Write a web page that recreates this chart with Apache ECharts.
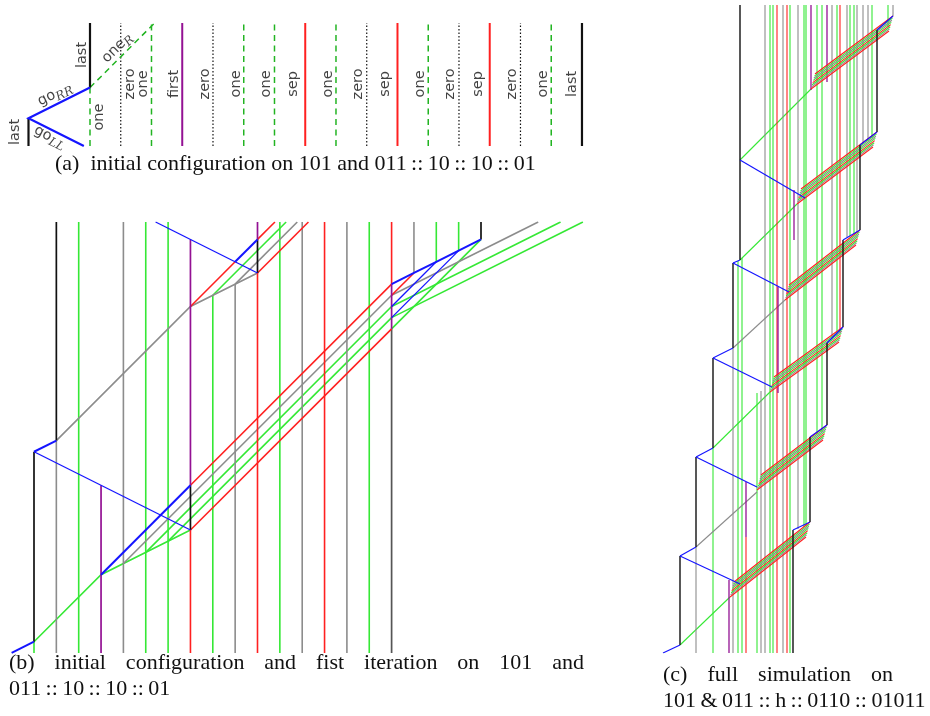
<!DOCTYPE html>
<html>
<head>
<meta charset="utf-8">
<script src="https://cdn.jsdelivr.net/npm/echarts@6/dist/echarts.min.js"></script>
<style>
html, body { margin: 0; padding: 0; background: #fff; }
#main { width: 930px; height: 716px; }
</style>
</head>
<body>
<div id="main"></div>
<script>
// ---- panel (a): space in cell units, time upward ----
const aTop = 4;
const aBlackSolid = [[[-2, 0], [-2, 0.9]], [[0, 1.9], [0, 4]], [[16, 0], [16, 4]]];
const aBlackDotted = [[[1, 0], [1, 4]], [[4, 0], [4, 4]], [[9, 0], [9, 4]], [[12, 0], [12, 4]], [[14, 0], [14, 4]]];
const aGreenDashed = [[[0, 0], [0, 1.9]], [[2, 0], [2, 4]], [[5, 0], [5, 4]], [[6, 0], [6, 4]], [[8, 0], [8, 4]],
  [[11, 0], [11, 4]], [[15, 0], [15, 4]], [[0, 1.9], [2.1, 4]]];
const aPurple = [[[3, 0], [3, 4]]];
const aRed = [[[7, 0], [7, 4]], [[10, 0], [10, 4]], [[13, 0], [13, 4]]];
const aBlue = [[[-0.2, 0], [-2, 0.9], [0, 1.9]]];
// label text, x, t, rotation
const aLabels = [
  ['last', -2.44, 0.46, 90], ['go|RR', -1.14, 1.68, 26], ['go|LL', -1.3, 0.29, -27],
  ['last', -0.26, 2.96, 90], ['one|R', 0.88, 3.19, 45], ['one', 0.29, 0.94, 90],
  ['zero', 1.3, 2.02, 90], ['one', 1.72, 2.02, 90], ['first', 2.73, 2.02, 90], ['zero', 3.74, 2.02, 90],
  ['one', 4.75, 2.02, 90], ['one', 5.72, 2.02, 90], ['sep', 6.6, 2.02, 90], ['one', 7.74, 2.02, 90],
  ['zero', 8.72, 2.02, 90], ['sep', 9.6, 2.02, 90], ['one', 10.73, 2.02, 90], ['zero', 11.7, 2.02, 90],
  ['sep', 12.62, 2.02, 90], ['zero', 13.72, 2.02, 90], ['one', 14.73, 2.02, 90], ['last', 15.67, 2.02, 90]
];

// ---- panel (b): one signal spacing = 1 unit ----
const T = 19.28;
const bBlack = [[[0, 0.5], [0, 9]], [[1, 9.5], [1, T]], [[7, 5.5], [7, 7.5]], [[10, 17], [10, 18.5]], [[20, 18.5], [20, T]]];
const bDarkGray = [[[16, 0], [16, 14.5]]];
const bGray = [[[1, 0], [1, 9.5]], [[4, 0], [4, T]], [[9, 0], [9, 16.5]], [[12, 0], [12, T]], [[14, 0], [14, T]],
  [[17, 17], [17, T]], [[4, 4], [16, 16]], [[1, 9.5], [7, 15.5], [10, 17]], [[9, 16.5], [11.78, T]],
  [[16, 16], [22.56, T]]];
const bGreen = [[[0, 0], [0, 0.5]], [[2, 0], [2, T]], [[5, 0], [5, T]], [[6, 0], [6, T]], [[8, 0], [8, 16]],
  [[11, 0], [11, T]], [[15, 0], [15, T]], [[18, 17.5], [18, T]], [[19, 18], [19, T]],
  [[0, 0.5], [3, 3.5], [7, 5.5]], [[5, 4.5], [16, 15.5]], [[6, 5], [16, 15]], [[8, 16], [11.28, T]],
  [[16, 14.5], [20, 18.5]], [[16, 15.5], [23.56, T]], [[16, 15], [24.56, T]]];
const bRed = [[[7, 0], [7, 5.5]], [[10, 0], [10, 17]], [[13, 0], [13, T]], [[16, 16.5], [16, T]],
  [[7, 5.5], [16, 14.5]], [[7, 7.5], [16, 16.5]], [[7, 15.5], [9, 17.5]], [[10, 18.5], [10.78, T]],
  [[10, 17], [12.28, T]], [[16, 16], [17, 17]]];
const bPurple = [[[3, 0], [3, 7.5]], [[7, 7.5], [7, 18.5]], [[10, 18.5], [10, T]], [[16, 14.5], [16, 16.5]]];
const bBlueThick = [[[-1, 0], [0, 0.5]], [[0, 9], [1, 9.5]], [[3, 3.5], [7, 7.5]], [[9, 17.5], [10, 18.5]],
  [[16, 16.5], [17, 17], [18, 17.5], [19, 18], [20, 18.5]]];
const bBlueThin = [[[0, 9], [7, 5.5]], [[10, 17], [5.44, T]], [[16, 15.5], [18, 17.5]], [[16, 15], [19, 18]]];

// ---- panel (c): space / time in fine units ----
const cBlack = [[[17, 8], [17, 97]], [[33, 106], [33, 196]], [[50, 205], [50, 295]], [[70, 305], [70, 390]],
  [[77, 393], [77, 648]], [[130, 0], [130, 123]], [[147, 131], [147, 216]], [[164, 228], [164, 310]],
  [[180, 326], [180, 413]], [[197, 423], [197, 508]], [[214, 521], [214, 623]]];
const cBlue = [[[0, 0], [17, 8]], [[17, 97], [33, 106]], [[33, 196], [50, 205]], [[50, 295], [70, 305]],
  [[70, 390], [77, 393]], [[17, 97], [77, 69]], [[33, 196], [94, 166]], [[50, 295], [109, 266]],
  [[70, 390], [126, 361]], [[77, 493], [142, 455]], [[130, 123], [147, 131]], [[147, 216], [164, 228]],
  [[164, 310], [180, 326]], [[180, 413], [197, 423]], [[197, 508], [214, 521]], [[214, 623], [230, 637]]];
const cGreen = [[[17, 8], [67, 56]], [[50, 205], [107, 261]], [[77, 393], [134, 449]], [[77, 493], [148, 564]],
  [[50, 0], [50, 205]], [[75, 0], [75, 392]], [[79, 0], [79, 395]], [[94, 0], [94, 260]], [[107, 0], [107, 648]],
  [[110, 0], [110, 648]], [[127, 0], [127, 648]], [[141, 126], [141, 648]], [[143, 127], [143, 648]],
  [[154, 219], [154, 648]], [[159, 221], [159, 648]], [[174, 317], [174, 648]], [[187, 417], [187, 648]],
  [[191, 419], [191, 648]], [[209, 515], [209, 648]], [[225, 626], [225, 648]]];
const cGray = [[[33, 106], [94, 161]], [[70, 305], [122, 353]], [[33, 0], [33, 106]], [[70, 0], [70, 305]],
  [[98, 0], [98, 262]], [[102, 0], [102, 648]], [[120, 0], [120, 648]], [[135, 124], [135, 648]],
  [[169, 314], [169, 648]], [[184, 416], [184, 648]], [[194, 420], [194, 648]], [[200, 510], [200, 648]],
  [[205, 512], [205, 648]], [[230, 637], [230, 648]]];
const cRed = [[[83, 0], [83, 116]], [[114, 0], [114, 648]], [[124, 0], [124, 648]], [[177, 320], [177, 648]]];
const cPurple = [[[66, 0], [66, 73]], [[83, 116], [83, 171]], [[115, 260], [115, 366]], [[131, 413], [131, 463]],
  [[148, 563], [148, 648]], [[164, 571], [164, 648]]];
// diagonal bundles: lower-left tip, upper-right corner
const cBands = [[[67, 56], [147, 131]], [[94, 163], [164, 228]], [[107, 261], [180, 326]],
  [[122, 353], [197, 423]], [[134, 449], [214, 521]], [[148, 564], [230, 637]]];
const bandColors = ['red', 'green', 'gray', 'green', 'red', 'green', 'gray', 'red'];

const COL = { black: '#111111', gray: '#8c8c8c', dgray: '#555555', green: '#35e835', dgreen: '#22b422',
  red: '#ff2020', purple: '#931193', blue: '#1515ff' };

// bundle lines drawn between the corners read above
const cBandLines = { red: [], gray: [], green: [] };
cBands.forEach(([[a, b], [c, d]]) => {
  const n = bandColors.length;
  bandColors.forEach((col, k) => {
    const f = 1 - k / (n - 1);
    cBandLines[col].push([[a + 4 * f, b + 15 * f], [c - 4 * (1 - f), d - 15 * (1 - f)]]);
  });
});

function lines(g, data, color, width, type, z) {
  return {
    type: 'lines', coordinateSystem: 'cartesian2d', xAxisIndex: g, yAxisIndex: g,
    polyline: true, silent: true, animation: false, z: z || 2,
    lineStyle: { color: color, width: width, type: type || 'solid', opacity: 1 },
    data: data.map(c => ({ coords: c }))
  };
}

const series = [
  lines(0, aBlackDotted, COL.black, 1.2, [1.5, 2]),
  lines(0, aGreenDashed, COL.dgreen, 1.5, [6, 4.5]),
  lines(0, aPurple, COL.purple, 2),
  lines(0, aRed, COL.red, 2),
  lines(0, aBlackSolid, COL.black, 2.2),
  lines(0, aBlue, COL.blue, 2.2),
  {
    type: 'scatter', xAxisIndex: 0, yAxisIndex: 0, symbolSize: 1, silent: true, animation: false,
    itemStyle: { color: 'rgba(0,0,0,0)' },
    data: aLabels.map(l => ({ name: l[0], value: [l[1], l[2]], label: { rotate: l[3] } })),
    label: {
      show: true, position: 'inside', color: '#111',
      formatter: p => {
        const s = p.name.split('|');
        return s.length > 1 ? '{n|' + s[0] + '}{s|' + s[1] + '}' : '{n|' + s[0] + '}';
      },
      rich: {
        n: { fontSize: 14.5, fontFamily: 'DejaVu Sans', color: '#111', lineHeight: 18 },
        s: { fontSize: 12, fontFamily: 'DejaVu Serif', fontStyle: 'italic', color: '#111', lineHeight: 18, padding: [8, 0, 0, 0] }
      }
    }
  },
  lines(1, bGreen, COL.green, 1.6),
  lines(1, bGray, COL.gray, 1.6),
  lines(1, bDarkGray, COL.dgray, 1.7),
  lines(1, bRed, COL.red, 1.6),
  lines(1, bPurple, COL.purple, 1.7),
  lines(1, bBlack, COL.black, 1.7),
  lines(1, bBlueThin, COL.blue, 1.3),
  lines(1, bBlueThick, COL.blue, 2),
  lines(2, cGreen, COL.green, 1.1),
  lines(2, cGray, COL.gray, 1.1),
  lines(2, cRed, COL.red, 1.1),
  lines(2, cPurple, COL.purple, 1.3),
  lines(2, cBandLines.green, COL.green, 1.1),
  lines(2, cBandLines.gray, COL.gray, 1.1),
  lines(2, cBandLines.red, COL.red, 1.1),
  lines(2, cBlack, COL.black, 1.4),
  lines(2, cBlue, COL.blue, 1.2)
];

// captions
const meas = document.createElement('canvas').getContext('2d');
const capSize = 22;
meas.font = capSize + 'px "Liberation Serif"';
function capText(text, x, y) {
  return { type: 'text', x: x, y: y, silent: true,
    style: { text: text, fontSize: capSize, fontFamily: 'Liberation Serif', fill: '#111', verticalAlign: 'middle', align: 'left' } };
}
function justified(words, x0, x1, y) {
  const ws = words.map(w => meas.measureText(w).width);
  const gap = (x1 - x0 - ws.reduce((p, q) => p + q, 0)) / (words.length - 1);
  let x = x0;
  return words.map((w, i) => { const e = capText(w, x, y); x += ws[i] + gap; return e; });
}
const th = '\u2009';
const cc = th + '::' + th;
const graphics = [].concat(
  [capText('(a)  initial configuration on 101 and 011' + cc + '10' + cc + '10' + cc + '01', 55, 164)],
  justified(['(b)', 'initial', 'configuration', 'and', 'fist', 'iteration', 'on', '101', 'and'], 9, 584, 663),
  [capText('011' + cc + '10' + cc + '10' + cc + '01', 9, 689)],
  justified(['(c)', 'full', 'simulation', 'on'], 663, 893, 675),
  [capText('101' + th + '&' + th + '011' + cc + 'h' + cc + '0110' + cc + '01011', 663, 701)]
);

const chart = echarts.init(document.getElementById('main'));
chart.setOption({
  backgroundColor: '#fff',
  animation: false,
  grid: [
    { left: 0.825, top: 23, width: 611.9, height: 123 },
    { left: 11.65, top: 222, width: 581.1, height: 430.9 },
    { left: 663, top: 3, width: 240, height: 650 }
  ],
  xAxis: [
    { gridIndex: 0, type: 'value', min: -2.9, max: 17, show: false },
    { gridIndex: 1, type: 'value', min: -1, max: 25, show: false },
    { gridIndex: 2, type: 'value', min: 0, max: 240, show: false }
  ],
  yAxis: [
    { gridIndex: 0, type: 'value', min: 0, max: aTop, show: false },
    { gridIndex: 1, type: 'value', min: 0, max: T, show: false },
    { gridIndex: 2, type: 'value', min: 0, max: 650, show: false }
  ],
  graphic: { elements: graphics },
  series: series
});
</script>
</body>
</html>
